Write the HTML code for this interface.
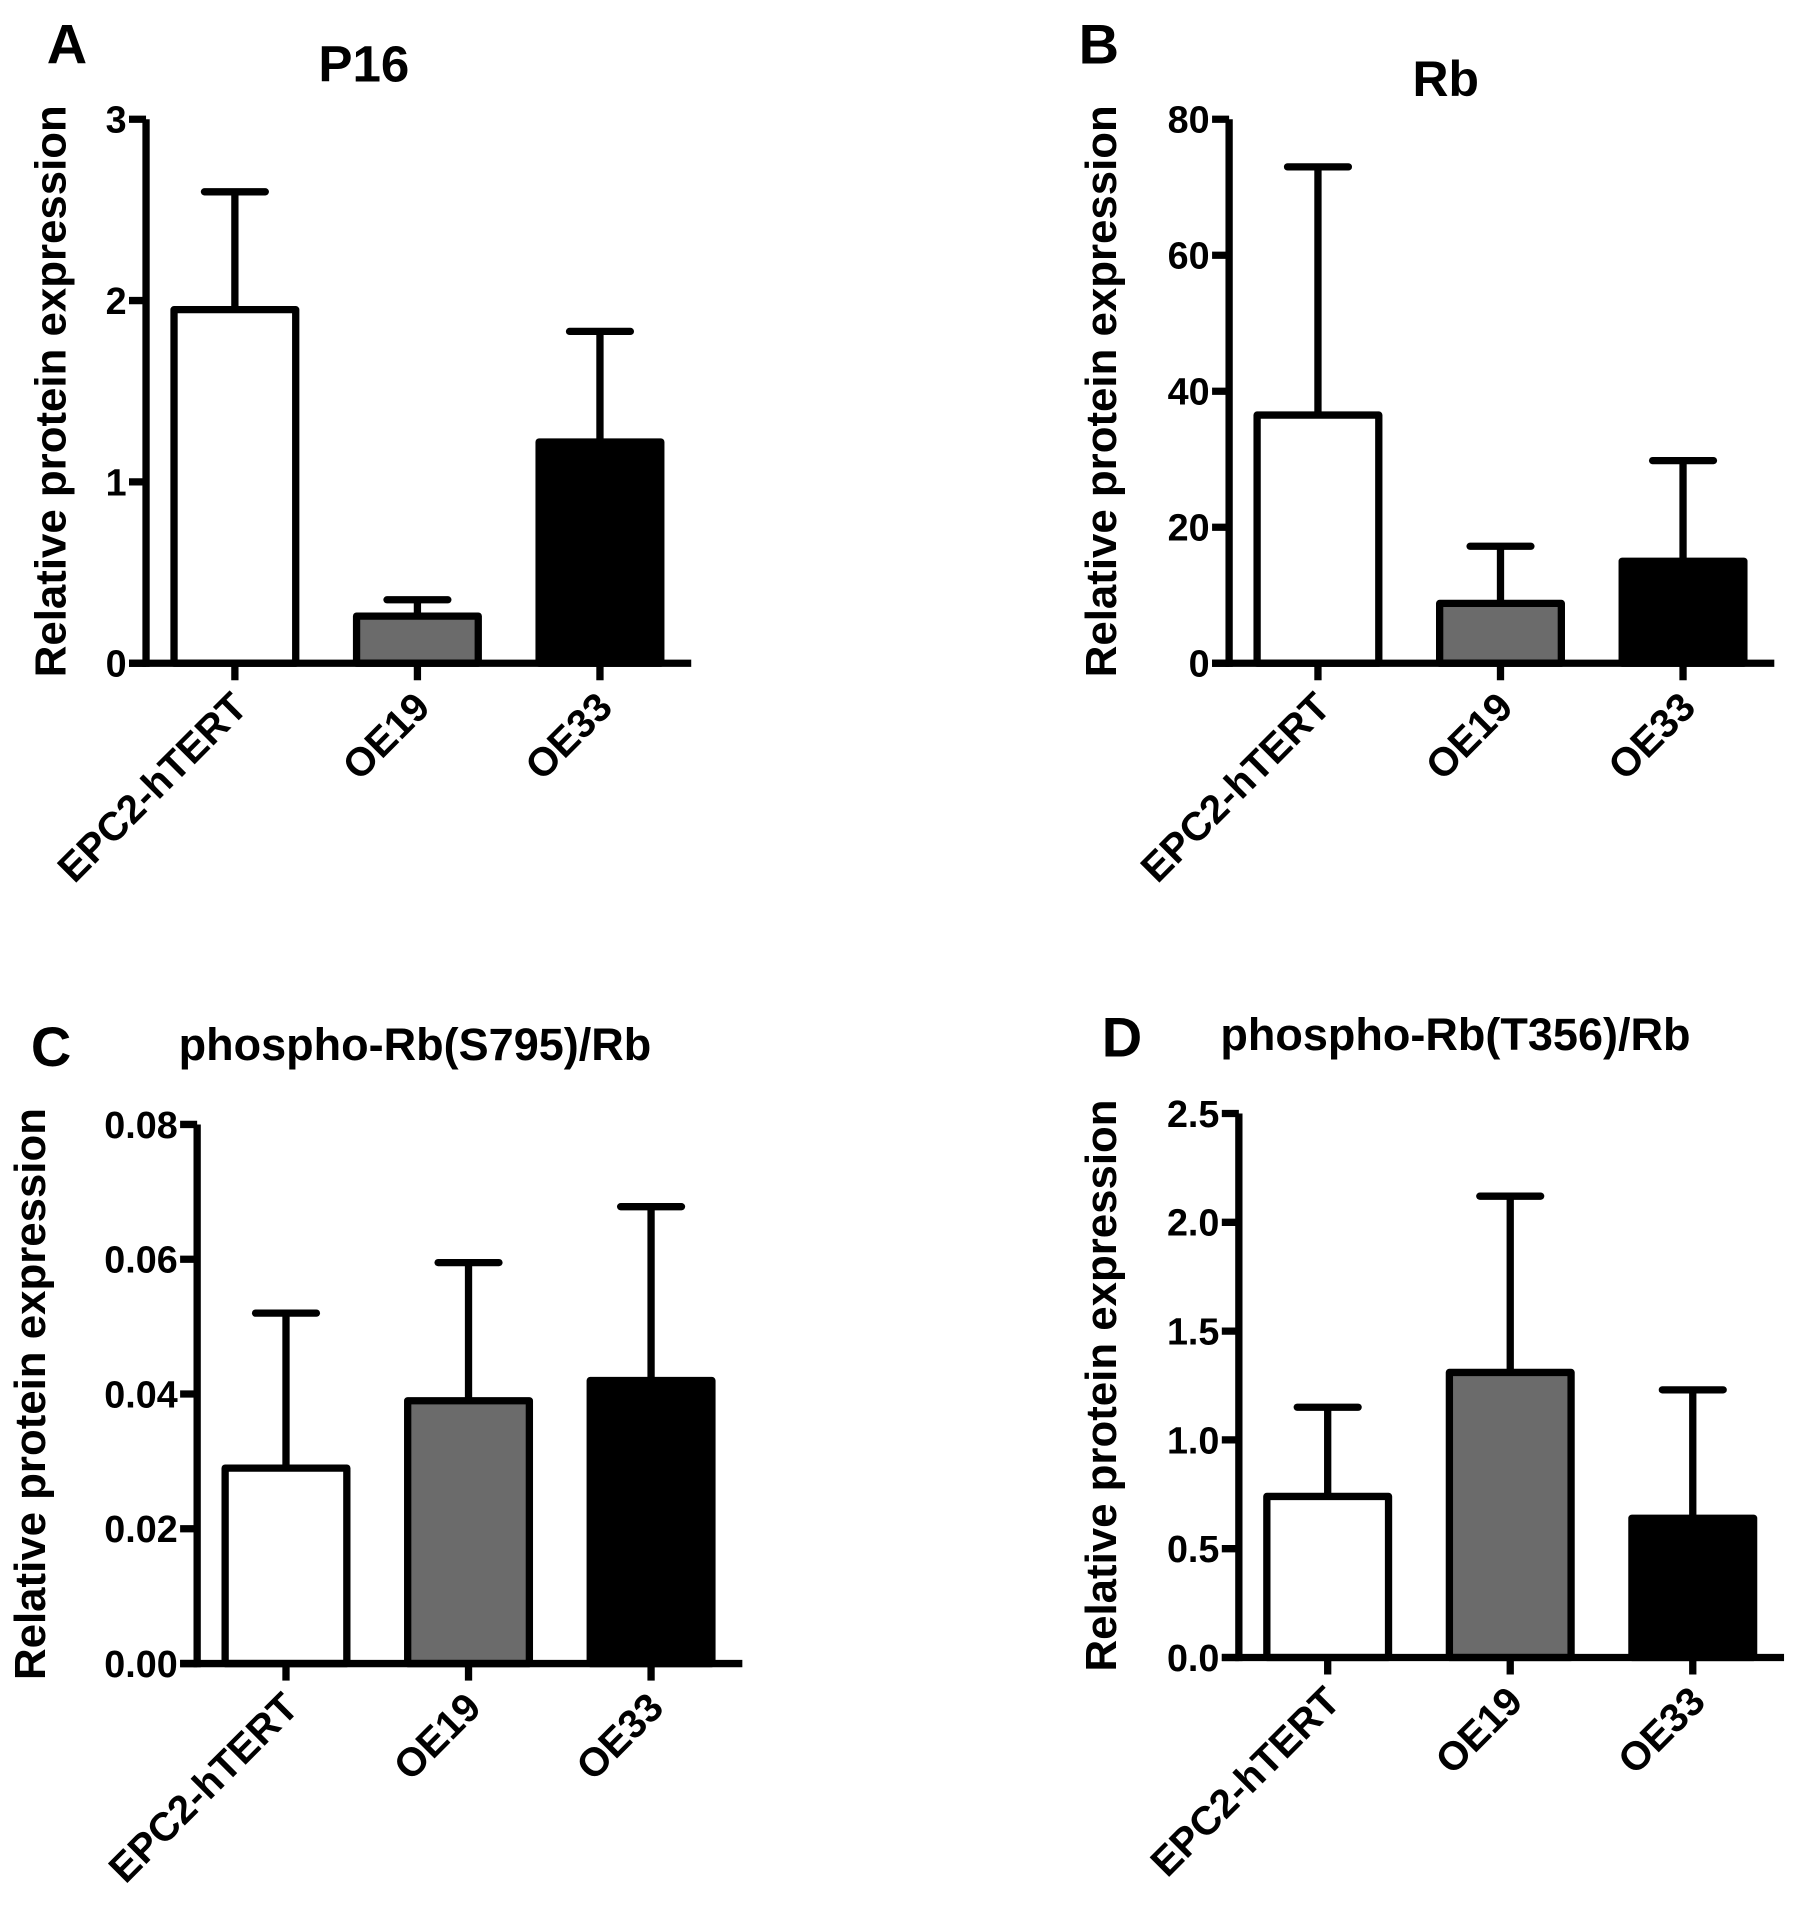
<!DOCTYPE html>
<html><head><meta charset="utf-8"><style>
html,body{margin:0;padding:0;background:#fff;}
svg{display:block;font-family:"Liberation Sans",Arial,sans-serif;font-weight:bold;}
</style></head><body>
<svg id="fig" width="1795" height="1905" viewBox="0 0 1475 1565.4" xmlns="http://www.w3.org/2000/svg"></svg>
<script>
const categories = ["EPC2-hTERT","OE19","OE33"];
const fills = ["#ffffff","#6b6b6b","#000000"];
const p16Means = [1.95,0.26,1.22];
const p16Errs = [2.6,0.35,1.83];
const p16Ticks = ["0","1","2","3"];
const rbMeans = [36.5,8.8,15];
const rbErrs = [73,17.2,29.8];
const rbTicks = ["0","20","40","60","80"];
const s795Means = [0.029,0.039,0.042];
const s795Errs = [0.052,0.0595,0.0678];
const s795Ticks = ["0.00","0.02","0.04","0.06","0.08"];
const t356Means = [0.74,1.31,0.64];
const t356Errs = [1.15,2.12,1.23];
const t356Ticks = ["0.0","0.5","1.0","1.5","2.0","2.5"];

const NS="http://www.w3.org/2000/svg";
const svg=document.getElementById('fig');
function mk(tag,attrs,parent){const e=document.createElementNS(NS,tag);for(const k in attrs)e.setAttribute(k,attrs[k]);(parent||svg).appendChild(e);return e;}

function panel(o){
  const g=mk('g',{});
  
  
  const ymax=parseFloat(o.ticks[o.ticks.length-1]);
  const y=v=>o.y0-(v/ymax)*(o.y0-o.ytop);
  const lw=6;
  const L=mk('text',{x:o.lx,y:o.ly,'font-size':46,'text-anchor':'middle'},g);L.textContent=o.letter;
  
  
  const T=mk('text',{x:o.tx,y:o.ty,'font-size':o.tsize,'text-anchor':'middle'},g);T.textContent=o.title;
  
  
  const YL=mk('text',{x:0,y:0,'font-size':36,'text-anchor':'middle',transform:`translate(${o.ylx},${(o.y0+o.ytop)/2}) rotate(-90)`},g);
  YL.textContent="Relative protein expression";
  
  
  const bw=100, spacing=150, first=o.ax+73;
  categories.forEach((c,i)=>{
    const cx=first+i*spacing;
    const yt=y(o.errs[i]), yb=y(o.means[i]);
    const eb=mk('line',{x1:cx,x2:cx,y1:yt,y2:yb,stroke:'#000','stroke-width':lw},g);
    
    
    const cap=mk('line',{x1:cx-25,x2:cx+25,y1:yt,y2:yt,stroke:'#000','stroke-width':lw,'stroke-linecap':'round'},g);
    
    
    const r=mk('rect',{x:cx-bw/2,y:yb,width:bw,height:o.y0-yb,fill:fills[i],stroke:'#000','stroke-width':lw,'stroke-linejoin':'round'},g);
    
    
    const tk=mk('line',{x1:cx,x2:cx,y1:o.y0,y2:o.y0+14,stroke:'#000','stroke-width':lw},g);
    
    
    const lab=mk('text',{x:0,y:0,'font-size':33,'text-anchor':'end',transform:`translate(${cx+12},${o.y0+38}) rotate(-45)`},g);
    lab.textContent=c;
    
    
  });
  const ya=mk('line',{x1:o.ax,x2:o.ax,y1:o.ytop,y2:o.y0+lw/2,stroke:'#000','stroke-width':lw},g);
  
  
  const xa=mk('line',{x1:o.ax-14,x2:o.ax+448,y1:o.y0,y2:o.y0,stroke:'#000','stroke-width':lw},g);
  
  
  o.ticks.forEach(t=>{
    const v=parseFloat(t), yy=y(v);
    const tl=mk('line',{x1:o.ax-14,x2:o.ax,y1:yy,y2:yy,stroke:'#000','stroke-width':lw},g);
    
    
    const tt=mk('text',{x:o.ax-16,y:yy+11,'font-size':31,'text-anchor':'end'},g);
    tt.textContent=t;
    
    
  });
}
panel({letter:'A',lx:55,ly:52,title:'P16',tx:299,ty:67,tsize:42,ylx:54,ax:120,ytop:98,y0:545,means:p16Means,errs:p16Errs,ticks:p16Ticks});
panel({letter:'B',lx:903,ly:52,title:'Rb',tx:1188,ty:79,tsize:41,ylx:917,ax:1010,ytop:98,y0:545,means:rbMeans,errs:rbErrs,ticks:rbTicks});
panel({letter:'C',lx:42,ly:876,title:'phospho-Rb(S795)/Rb',tx:341,ty:871,tsize:37,ylx:37,ax:162,ytop:924,y0:1367,means:s795Means,errs:s795Errs,ticks:s795Ticks});
panel({letter:'D',lx:922,ly:868,title:'phospho-Rb(T356)/Rb',tx:1196,ty:863,tsize:37,ylx:917,ax:1018,ytop:915,y0:1362,means:t356Means,errs:t356Errs,ticks:t356Ticks});
</script>
</body></html>
